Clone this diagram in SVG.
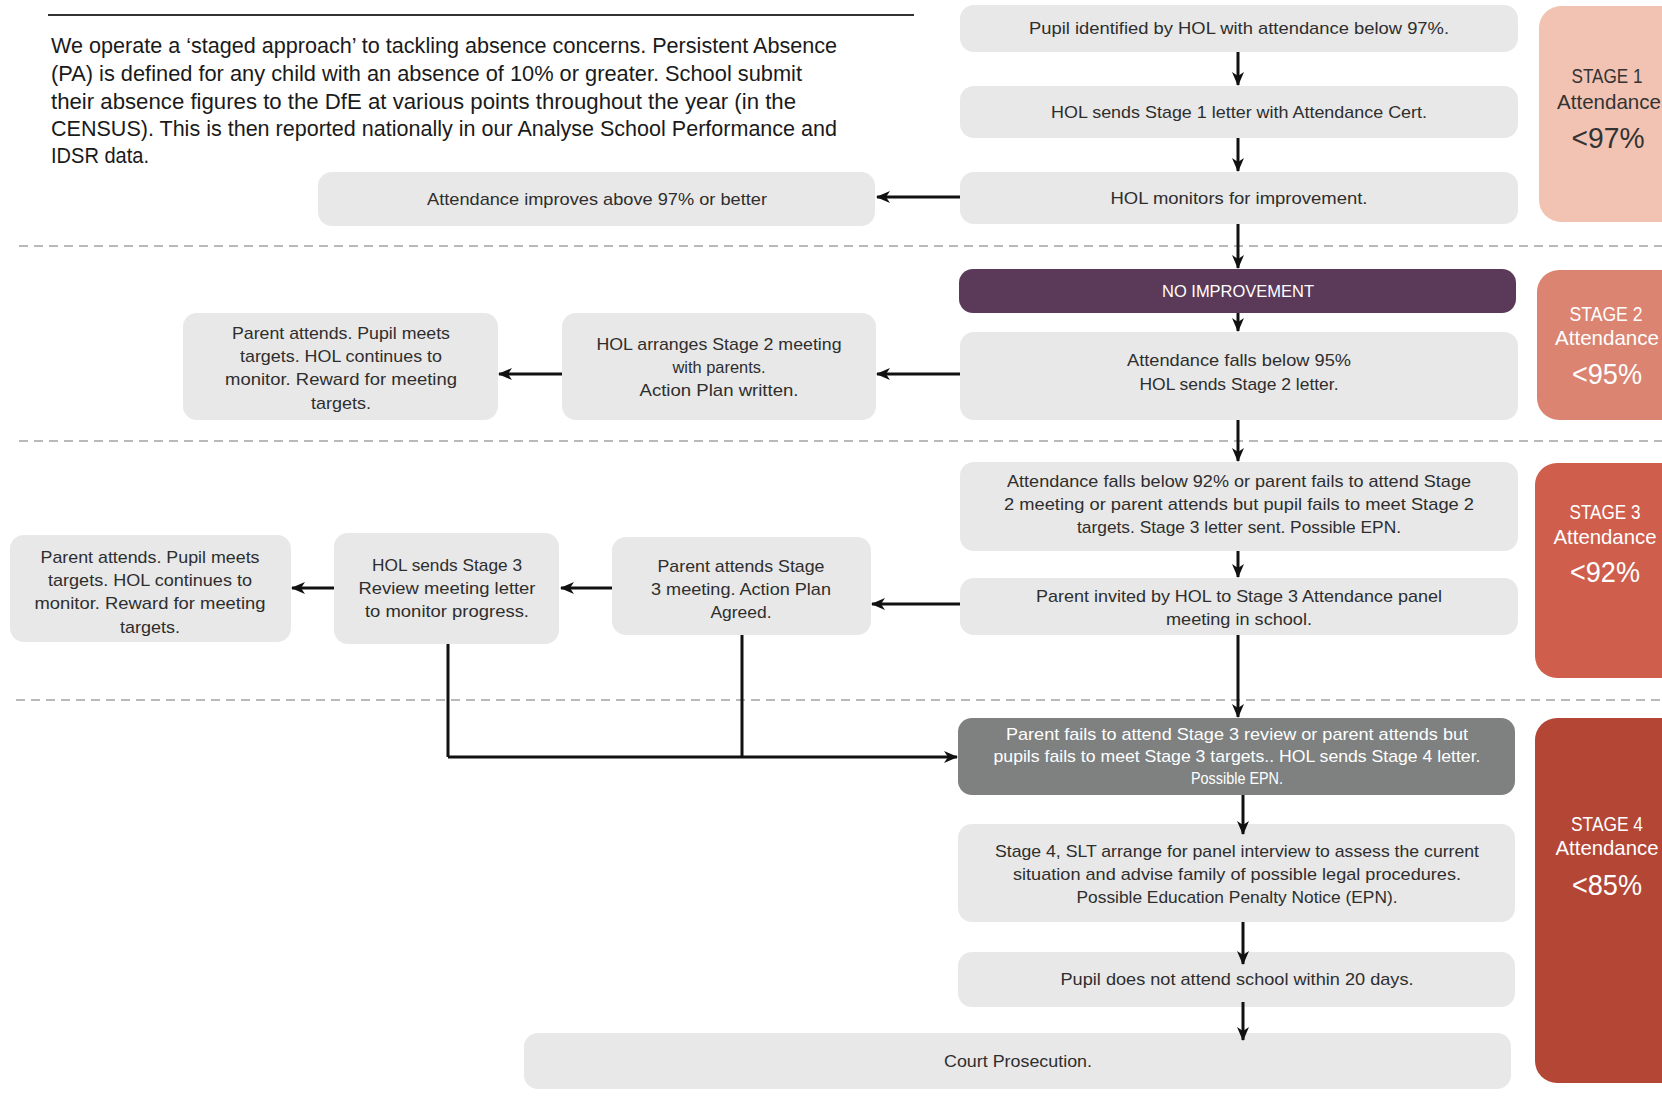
<svg xmlns="http://www.w3.org/2000/svg" width="1662" height="1103" viewBox="0 0 1662 1103">
<defs>
<marker id="ah" markerUnits="userSpaceOnUse" markerWidth="14" markerHeight="12" refX="13" refY="6" orient="auto">
<path d="M0,0 L14,6 L0,12 L4,6 z" fill="#111"/>
</marker>
<style>
.box{fill:#E8E8E8}
.t{font-family:"Liberation Sans Narrow","Liberation Sans",Arial,sans-serif;font-size:17px;fill:#2e2e2e;text-anchor:middle}
.tw{fill:#fff}
.p{font-family:"Liberation Sans Narrow","Liberation Sans",Arial,sans-serif;font-size:22px;fill:#1a1a1a}
.b1{font-family:"Liberation Sans Narrow","Liberation Sans",Arial,sans-serif;font-size:21px;text-anchor:middle}
.b2{font-family:"Liberation Sans Narrow","Liberation Sans",Arial,sans-serif;font-size:29px;text-anchor:middle}
.dash{stroke:#b9b9b9;stroke-width:2;stroke-dasharray:9 6;fill:none}
.c{stroke:#111;stroke-width:3;fill:none}
.ca{stroke:#111;stroke-width:3;fill:none;marker-end:url(#ah)}
</style>
</defs>
<rect width="1662" height="1103" fill="#fff"/>

<g id="header">
<line x1="48" y1="15" x2="914" y2="15" stroke="#333" stroke-width="2"/>
<text class="p" x="51" y="53" textLength="786" lengthAdjust="spacingAndGlyphs">We operate a ‘staged approach’ to tackling absence concerns. Persistent Absence</text>
<text class="p" x="51" y="81" textLength="751" lengthAdjust="spacingAndGlyphs">(PA) is defined for any child with an absence of 10% or greater. School submit</text>
<text class="p" x="51" y="109" textLength="745" lengthAdjust="spacingAndGlyphs">their absence figures to the DfE at various points throughout the year (in the</text>
<text class="p" x="51" y="136" textLength="786" lengthAdjust="spacingAndGlyphs">CENSUS). This is then reported nationally in our Analyse School Performance and</text>
<text class="p" x="51" y="163" textLength="98" lengthAdjust="spacingAndGlyphs">IDSR data.</text>
</g>

<g id="dividers">
<line class="dash" x1="19" y1="246" x2="1662" y2="246"/>
<line class="dash" x1="19" y1="441" x2="1662" y2="441"/>
<line class="dash" x1="16" y1="700" x2="1662" y2="700"/>
</g>

<g id="badge1">
<rect x="1539" y="6" width="160" height="216" rx="22" fill="#F2C3B3"/>
<text class="b1" x="1607" y="83" fill="#333" textLength="71" lengthAdjust="spacingAndGlyphs">STAGE 1</text>
<text class="b1" x="1609" y="109" fill="#333" textLength="104" lengthAdjust="spacingAndGlyphs">Attendance</text>
<text class="b2" x="1608" y="148" fill="#333" textLength="73" lengthAdjust="spacingAndGlyphs">&lt;97%</text>
</g>
<g id="badge2">
<rect x="1537" y="270" width="160" height="150" rx="22" fill="#DB8471"/>
<text class="b1" x="1606" y="321" fill="#fff" textLength="73" lengthAdjust="spacingAndGlyphs">STAGE 2</text>
<text class="b1" x="1607" y="345" fill="#fff" textLength="104" lengthAdjust="spacingAndGlyphs">Attendance</text>
<text class="b2" x="1607" y="384" fill="#fff" textLength="70" lengthAdjust="spacingAndGlyphs">&lt;95%</text>
</g>
<g id="badge3">
<rect x="1535" y="463" width="160" height="215" rx="22" fill="#CF5E4C"/>
<text class="b1" x="1605" y="519" fill="#fff" textLength="71" lengthAdjust="spacingAndGlyphs">STAGE 3</text>
<text class="b1" x="1605" y="544" fill="#fff" textLength="103" lengthAdjust="spacingAndGlyphs">Attendance</text>
<text class="b2" x="1605" y="582" fill="#fff" textLength="70" lengthAdjust="spacingAndGlyphs">&lt;92%</text>
</g>
<g id="badge4">
<rect x="1535" y="718" width="160" height="365" rx="22" fill="#B44636"/>
<text class="b1" x="1607" y="831" fill="#fff" textLength="72" lengthAdjust="spacingAndGlyphs">STAGE 4</text>
<text class="b1" x="1607" y="855" fill="#fff" textLength="103" lengthAdjust="spacingAndGlyphs">Attendance</text>
<text class="b2" x="1607" y="895" fill="#fff" textLength="70" lengthAdjust="spacingAndGlyphs">&lt;85%</text>
</g>

<g id="n1">
<rect class="box" x="960" y="5" width="558" height="47" rx="14"/>
<text class="t" x="1239" y="34" textLength="420" lengthAdjust="spacingAndGlyphs">Pupil identified by HOL with attendance below 97%.</text>
</g>
<g id="n2">
<rect class="box" x="960" y="86" width="558" height="52" rx="14"/>
<text class="t" x="1239" y="118" textLength="376" lengthAdjust="spacingAndGlyphs">HOL sends Stage 1 letter with Attendance Cert.</text>
</g>
<g id="n3">
<rect class="box" x="960" y="172" width="558" height="52" rx="14"/>
<text class="t" x="1239" y="204" textLength="257" lengthAdjust="spacingAndGlyphs">HOL monitors for improvement.</text>
</g>
<g id="n4">
<rect class="box" x="318" y="172" width="557" height="54" rx="14"/>
<text class="t" x="597" y="205" textLength="340" lengthAdjust="spacingAndGlyphs">Attendance improves above 97% or better</text>
</g>
<g id="n5">
<rect x="959" y="269" width="557" height="44" rx="14" fill="#5A3A58"/>
<text class="t tw" x="1238" y="297" textLength="152" lengthAdjust="spacingAndGlyphs">NO IMPROVEMENT</text>
</g>
<g id="n6">
<rect class="box" x="960" y="332" width="558" height="88" rx="14"/>
<text class="t" x="1239" y="366" textLength="224" lengthAdjust="spacingAndGlyphs">Attendance falls below 95%</text>
<text class="t" x="1239" y="390" textLength="199" lengthAdjust="spacingAndGlyphs">HOL sends Stage 2 letter.</text>
</g>
<g id="n7">
<rect class="box" x="562" y="313" width="314" height="107" rx="14"/>
<text class="t" x="719" y="350" textLength="245" lengthAdjust="spacingAndGlyphs">HOL arranges Stage 2 meeting</text>
<text class="t" x="719" y="373" textLength="93" lengthAdjust="spacingAndGlyphs">with parents.</text>
<text class="t" x="719" y="396" textLength="159" lengthAdjust="spacingAndGlyphs">Action Plan written.</text>
</g>
<g id="n8">
<rect class="box" x="183" y="313" width="315" height="107" rx="14"/>
<text class="t" x="341" y="339" textLength="218" lengthAdjust="spacingAndGlyphs">Parent attends. Pupil meets</text>
<text class="t" x="341" y="362" textLength="202" lengthAdjust="spacingAndGlyphs">targets. HOL continues to</text>
<text class="t" x="341" y="385" textLength="232" lengthAdjust="spacingAndGlyphs">monitor. Reward for meeting</text>
<text class="t" x="341" y="409" textLength="60" lengthAdjust="spacingAndGlyphs">targets.</text>
</g>
<g id="n9">
<rect class="box" x="960" y="462" width="558" height="89" rx="14"/>
<text class="t" x="1239" y="487" textLength="464" lengthAdjust="spacingAndGlyphs">Attendance falls below 92% or parent fails to attend Stage</text>
<text class="t" x="1239" y="510" textLength="470" lengthAdjust="spacingAndGlyphs">2 meeting or parent attends but pupil fails to meet Stage 2</text>
<text class="t" x="1239" y="533" textLength="324" lengthAdjust="spacingAndGlyphs">targets. Stage 3 letter sent. Possible EPN.</text>
</g>
<g id="n10">
<rect class="box" x="960" y="578" width="558" height="57" rx="14"/>
<text class="t" x="1239" y="602" textLength="406" lengthAdjust="spacingAndGlyphs">Parent invited by HOL to Stage 3 Attendance panel</text>
<text class="t" x="1239" y="625" textLength="146" lengthAdjust="spacingAndGlyphs">meeting in school.</text>
</g>
<g id="n11">
<rect class="box" x="612" y="537" width="259" height="98" rx="14"/>
<text class="t" x="741" y="572" textLength="167" lengthAdjust="spacingAndGlyphs">Parent attends Stage</text>
<text class="t" x="741" y="595" textLength="180" lengthAdjust="spacingAndGlyphs">3 meeting. Action Plan</text>
<text class="t" x="741" y="618" textLength="61" lengthAdjust="spacingAndGlyphs">Agreed.</text>
</g>
<g id="n12">
<rect class="box" x="334" y="533" width="225" height="111" rx="14"/>
<text class="t" x="447" y="571" textLength="150" lengthAdjust="spacingAndGlyphs">HOL sends Stage 3</text>
<text class="t" x="447" y="594" textLength="177" lengthAdjust="spacingAndGlyphs">Review meeting letter</text>
<text class="t" x="447" y="617" textLength="164" lengthAdjust="spacingAndGlyphs">to monitor progress.</text>
</g>
<g id="n13">
<rect class="box" x="10" y="535" width="281" height="107" rx="14"/>
<text class="t" x="150" y="563" textLength="219" lengthAdjust="spacingAndGlyphs">Parent attends. Pupil meets</text>
<text class="t" x="150" y="586" textLength="204" lengthAdjust="spacingAndGlyphs">targets. HOL continues to</text>
<text class="t" x="150" y="609" textLength="231" lengthAdjust="spacingAndGlyphs">monitor. Reward for meeting</text>
<text class="t" x="150" y="633" textLength="60" lengthAdjust="spacingAndGlyphs">targets.</text>
</g>
<g id="n14">
<rect x="958" y="718" width="557" height="77" rx="14" fill="#7E8180"/>
<text class="t tw" x="1237" y="740" textLength="462" lengthAdjust="spacingAndGlyphs">Parent fails to attend Stage 3 review or parent attends but</text>
<text class="t tw" x="1237" y="762" textLength="487" lengthAdjust="spacingAndGlyphs">pupils fails to meet Stage 3 targets.. HOL sends Stage 4 letter.</text>
<text class="t tw" x="1237" y="784" textLength="92" lengthAdjust="spacingAndGlyphs">Possible EPN.</text>
</g>
<g id="n15">
<rect class="box" x="958" y="824" width="557" height="98" rx="14"/>
<text class="t" x="1237" y="857" textLength="484" lengthAdjust="spacingAndGlyphs">Stage 4, SLT arrange for panel interview to assess the current</text>
<text class="t" x="1237" y="880" textLength="448" lengthAdjust="spacingAndGlyphs">situation and advise family of possible legal procedures.</text>
<text class="t" x="1237" y="903" textLength="321" lengthAdjust="spacingAndGlyphs">Possible Education Penalty Notice (EPN).</text>
</g>
<g id="n16">
<rect class="box" x="958" y="952" width="557" height="55" rx="14"/>
<text class="t" x="1237" y="985" textLength="353" lengthAdjust="spacingAndGlyphs">Pupil does not attend school within 20 days.</text>
</g>
<g id="n17">
<rect class="box" x="524" y="1033" width="987" height="56" rx="14"/>
<text class="t" x="1018" y="1067" textLength="148" lengthAdjust="spacingAndGlyphs">Court Prosecution.</text>
</g>

<g id="connectors">
<line class="ca" x1="1238" y1="52" x2="1238" y2="85"/>
<line class="ca" x1="1238" y1="138" x2="1238" y2="171"/>
<line class="ca" x1="1238" y1="224" x2="1238" y2="268"/>
<line class="ca" x1="1238" y1="313" x2="1238" y2="331"/>
<line class="ca" x1="1238" y1="420" x2="1238" y2="461"/>
<line class="ca" x1="1238" y1="551" x2="1238" y2="577"/>
<line class="ca" x1="1238" y1="635" x2="1238" y2="717"/>
<line class="ca" x1="960" y1="197" x2="877" y2="197"/>
<line class="ca" x1="960" y1="374" x2="877" y2="374"/>
<line class="ca" x1="562" y1="374" x2="499" y2="374"/>
<line class="ca" x1="960" y1="604" x2="872" y2="604"/>
<line class="ca" x1="612" y1="588" x2="561" y2="588"/>
<line class="ca" x1="334" y1="588" x2="292" y2="588"/>
<line class="c" x1="448" y1="644" x2="448" y2="757"/>
<line class="c" x1="742" y1="635" x2="742" y2="757"/>
<line class="ca" x1="448" y1="757" x2="957" y2="757"/>
<line class="ca" x1="1243" y1="795" x2="1243" y2="834"/>
<line class="ca" x1="1243" y1="922" x2="1243" y2="964"/>
<line class="ca" x1="1243" y1="1002" x2="1243" y2="1040"/>
</g>
</svg>
